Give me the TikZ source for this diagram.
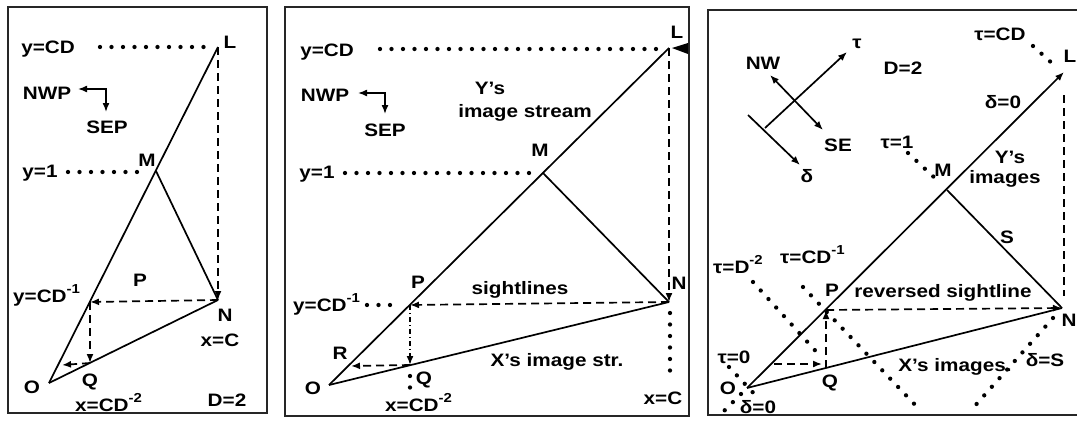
\documentclass[tikz,border=0pt]{standalone}
\usepackage{fontspec}
\setmainfont{Liberation Sans}[FakeStretch=1.15]
\usetikzlibrary{arrows.meta}
\newcommand\mysup[1]{\raisebox{0.5em}{\fontsize{13}{13}\selectfont #1}}
\begin{document}
\begin{tikzpicture}[x=1pt,y=-1pt,
  every node/.style={font=\fontsize{18}{20}\selectfont\bfseries, inner sep=0pt},
  >={Latex[length=9pt,width=7pt]},
  frm/.style={line width=2pt, draw=black!85},
  ln/.style={line width=1.7pt},
  dsh/.style={line width=1.7pt, dash pattern=on 8pt off 5pt},
  dots/.style={line width=4.3pt, line cap=round, dash pattern=on 0pt off 11.5pt},
  ddot/.style={line width=1.7pt, dash pattern=on 5pt off 3pt on 1pt off 3pt}]
\useasboundingbox (0,0) rectangle (1077,421);
\fill[white] (0,0) rectangle (1077,421);

% ================= Panel 1 =================
\draw[frm] (8,7) rectangle (267,413);
\coordinate (O1) at (49,383);
\coordinate (L1) at (218,47);
\coordinate (M1) at (156,171);
\coordinate (N1) at (218,300);
\coordinate (P1) at (90,302);
\coordinate (Q1) at (90,363);
\coordinate (R1) at (62,365);
\draw[ln] (O1) -- (L1);
\draw[ln] (M1) -- (N1);
\draw[ln] (O1) -- (N1);
\draw[dsh,->] (L1) -- (N1);
\draw[dsh,->] (N1) -- (P1);
\draw[dsh,->] (P1) -- (Q1);
\draw[dsh,->] (Q1) -- (R1);
\draw[dots] (100,47) -- (212,47);
\draw[dots] (68,172) -- (147,172);
\node (a1) at (48,49) {y=CD};
\node (a2) at (47,93) {NWP};
\node (a3) at (107,127) {SEP};
\draw[line width=1.5pt,<->] (78,89) -| (106,112);
\node (a4) at (147,160) {M};
\node (a5) at (40,173) {y=1};
\node (a6) at (230,42) {L};
\node (a7) at (140,280) {P};
\node[anchor=base west] (a8) at (13,302) {y=CD\mysup{-1}};
\node (a9) at (225,315) {N};
\node (a10) at (220,340) {x=C};
\node (a11) at (32,387) {O};
\node (a12) at (90,382) {Q};
\node[anchor=base west] (a13) at (75,411) {x=CD\mysup{-2}};
\node (a14) at (227,400) {D=2};

% ================= Panel 2 =================
\draw[frm] (285,7) rectangle (689,416);
\coordinate (O2) at (329,385);
\coordinate (L2) at (669,48);
\coordinate (M2) at (543,173);
\coordinate (N2) at (669,302);
\coordinate (P2) at (410,305);
\coordinate (Q2) at (410,365);
\coordinate (R2) at (351,366);
\draw[ln] (O2) -- (L2);
\draw[ln] (M2) -- (N2);
\draw[ln] (O2) -- (N2);
\draw[dsh,->] (L2) -- (N2);
\draw[dsh,->] (N2) -- (P2);
\draw[ddot,->] (P2) -- (Q2);
\draw[dsh,->] (Q2) -- (R2);
\fill (672,48) -- (688,43) -- (688,54) -- cycle;
\draw[dots] (380,49) -- (660,49);
\draw[dots] (345,173) -- (535,173);
\draw[dots] (367,305) -- (400,305);
\draw[dots] (670,313) -- (670,372);
\draw[dots] (410,376) -- (410,388);
\node (b1) at (327,52) {y=CD};
\node (b2) at (325,95) {NWP};
\node (b3) at (385,130) {SEP};
\draw[line width=1.5pt,<->] (358,93) -| (385,114);
\node (b4) at (490,88) {Y's};
\node (b5) at (525,113) {image stream};
\node (b6) at (540,150) {M};
\node (b7) at (317,174) {y=1};
\node (b8) at (677,32) {L};
\node (b9) at (418,282) {P};
\node (b10) at (520,290) {sightlines};
\node (b11) at (679,283) {N};
\node[anchor=base west] (b12) at (293,311) {y=CD\mysup{-1}};
\node (b13) at (340,353) {R};
\node (b14) at (313,388) {O};
\node (b15) at (424,380) {Q};
\node (b16) at (557,362) {X's image str.};
\node[anchor=base west] (b17) at (385,411) {x=CD\mysup{-2}};
\node (b18) at (663,398) {x=C};

% ================= Panel 3 =================
\draw[frm] (1090,10) -- (708,10) -- (708,415) -- (1090,415);
\coordinate (O3) at (747,388);
\coordinate (L3) at (1064,72);
\coordinate (M3) at (947,190);
\coordinate (N3) at (1062,308);
\coordinate (P3) at (826,310);
\coordinate (Q3) at (826,368);
\coordinate (R3) at (774,364);
\coordinate (Q3a) at (822,364);
\draw[ln,->] (O3) -- (L3);
\draw[ln] (M3) -- (N3);
\draw[ln] (O3) -- (N3);
\draw[dsh] (1064,95) -- (1064,296);
\draw[dsh,->] (P3) -- (N3);
\draw[dsh,->] (Q3) -- (P3);
\draw[dsh,->] (R3) -- (Q3a);
% axes
\draw[ln,->] (765,128) -- (847,52);
\draw[ln,->] (748,115) -- (800,165);
\draw[ln,<->] (770,75) -- (823,130);
\node (c1) at (857,44) {τ};
\node (c2) at (807,176) {δ};
\node (c3) at (763,63) {NW};
\node (c4) at (838,145) {SE};
\node (c5) at (903,68) {D=2};
% dotted lines
\draw[dots] (1033,46) -- (1054,65);
\draw[dots] (908,153) -- (937,180);
\draw[dots] (753,282) -- (822,358);
\draw[dots] (803,287) -- (920,410);
\draw[dots] (1053,318) -- (973,408);
\draw[dots] (729,367) -- (760,400);
\draw[dots] (741,394) -- (720,415);
% labels
\node (c6) at (1000,34) {τ=CD};
\node (c7) at (1070,56) {L};
\node (c8) at (1003,102) {δ=0};
\node (c9) at (897,142) {τ=1};
\node (c10) at (943,170) {M};
\node (c11) at (1010,157) {Y's};
\node (c12) at (1005,179) {images};
\node (c13) at (1007,237) {S};
\node[anchor=base west] (c14) at (713,273) {τ=D\mysup{-2}};
\node[anchor=base west] (c15) at (780,263) {τ=CD\mysup{-1}};
\node (c16) at (832,290) {P};
\node (c17) at (943,293) {reversed sightline};
\node (c18) at (1069,320) {N};
\node (c19) at (734,357) {τ=0};
\node (c20) at (955,367) {X's images.};
\node (c21) at (1045,360) {δ=S};
\node (c22) at (728,388) {O};
\node (c23) at (830,383) {Q};
\node (c24) at (758,407) {δ=0};
\end{tikzpicture}
\end{document}
